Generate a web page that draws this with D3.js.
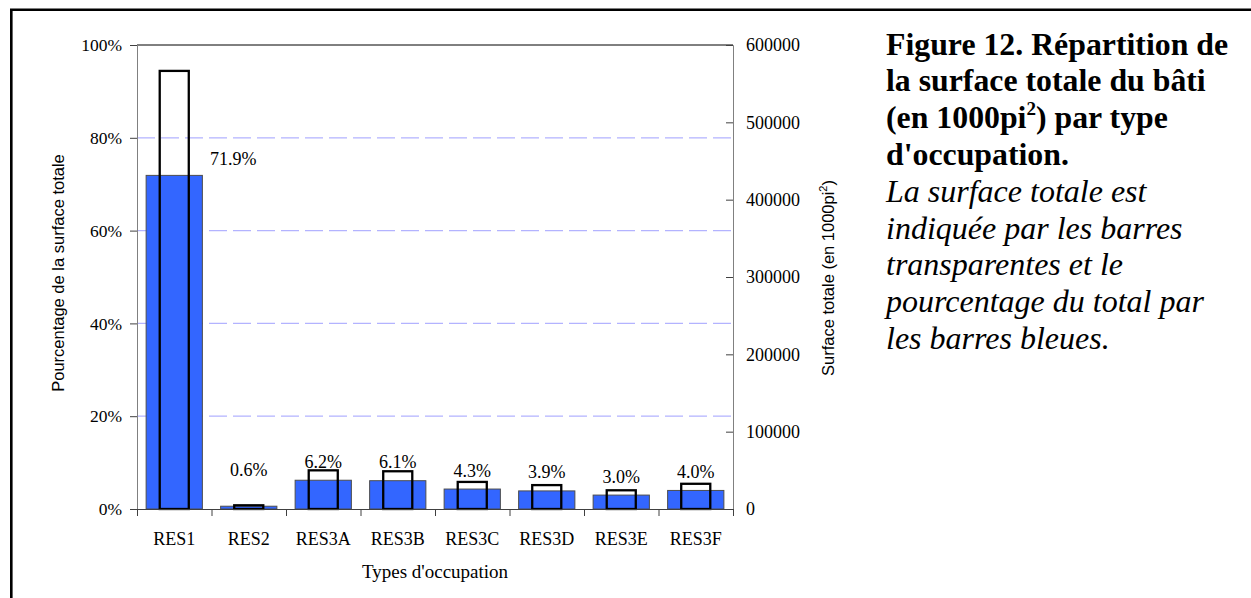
<!DOCTYPE html>
<html>
<head>
<meta charset="utf-8">
<script src="https://cdn.jsdelivr.net/npm/d3@7"></script>
<style>
  html, body { margin: 0; padding: 0; background: #fff; }
  svg { display: block; }
</style>
</head>
<body>
<svg id="chart" width="1251" height="598"></svg>
<script>
// Occupancy types
const categories = ["RES1", "RES2", "RES3A", "RES3B", "RES3C", "RES3D", "RES3E", "RES3F"];
// Share of the total built surface (blue bars, left axis)
const shareOfTotal = [0.719, 0.006, 0.062, 0.061, 0.043, 0.039, 0.030, 0.040];
// Total built surface in 1000 sq ft (outlined bars, right axis)
const totalSurface = [566500, 4800, 50000, 48800, 35000, 30900, 24200, 32600];
// Axis ticks
const pctTicks = [0, 0.2, 0.4, 0.6, 0.8, 1.0];
const surfaceTicks = [0, 100000, 200000, 300000, 400000, 500000, 600000];
const gridTicks = [0.2, 0.4, 0.6, 0.8];

const SERIF = '"Liberation Serif", "Times New Roman", serif';
const SANS = '"Liberation Sans", Arial, sans-serif';

const svg = d3.select("#chart");
const plot = { left: 137, right: 733, top: 45, bottom: 509 };

const x = d3.scaleBand().domain(categories).range([plot.left, plot.right]).padding(0);
const yPct = d3.scaleLinear().domain([0, 1]).range([plot.bottom, plot.top]);
const ySurf = d3.scaleLinear().domain([0, 600000]).range([plot.bottom, plot.top]);
const bw = x.bandwidth();
const blueW = bw * 0.755;
const openW = bw * 0.39;

// outer frame (top and left edges of the figure box)
svg.append("path")
  .attr("d", "M11.3,598 L11.3,9.7 L1251,9.7")
  .attr("fill", "none").attr("stroke", "#000").attr("stroke-width", 2.6);

// dashed gridlines
svg.append("g").selectAll("line").data(gridTicks).join("line")
  .attr("x1", plot.left).attr("x2", plot.right)
  .attr("y1", d => yPct(d)).attr("y2", d => yPct(d))
  .attr("stroke", "#b3b3ff").attr("stroke-width", 1.3)
  .attr("stroke-dasharray", "18,6");

// plot frame top
svg.append("line")
  .attr("x1", plot.left).attr("x2", plot.right)
  .attr("y1", plot.top).attr("y2", plot.top)
  .attr("stroke", "#000").attr("stroke-width", 1);

// blue bars: share of total
svg.append("g").selectAll("rect").data(categories).join("rect")
  .attr("x", d => x(d) + (bw - blueW) / 2)
  .attr("width", blueW)
  .attr("y", (d, i) => yPct(shareOfTotal[i]))
  .attr("height", (d, i) => plot.bottom - yPct(shareOfTotal[i]))
  .attr("fill", "#3366ff").attr("stroke", "#4d4d4d").attr("stroke-width", 1);

// open bars: total surface
svg.append("g").selectAll("rect").data(categories).join("rect")
  .attr("x", d => x(d) + (bw - openW) / 2)
  .attr("width", openW)
  .attr("y", (d, i) => ySurf(totalSurface[i]))
  .attr("height", (d, i) => plot.bottom - ySurf(totalSurface[i]))
  .attr("fill", "none").attr("stroke", "#000").attr("stroke-width", 2.3);

// value labels
const fmtPct = d3.format(".1%");
const nudge = { RES1: [59, 2], RES2: [0, -18] };
svg.append("g").selectAll("text").data(categories).join("text")
  .attr("x", d => x(d) + bw / 2 + (nudge[d] ? nudge[d][0] : 0))
  .attr("y", (d, i) => yPct(shareOfTotal[i]) - 12.5 + (nudge[d] ? nudge[d][1] : 0))
  .attr("text-anchor", "middle")
  .attr("font-family", SERIF)
  .attr("font-size", 18)
  .attr("fill", "#000")
  .text((d, i) => fmtPct(shareOfTotal[i]));

// left axis (percentage)
const gLeft = svg.append("g")
  .attr("transform", `translate(${plot.left},0)`)
  .call(d3.axisLeft(yPct).tickValues(pctTicks).tickFormat(d3.format(".0%")).tickSize(7).tickPadding(8));
gLeft.select(".domain").attr("stroke", "#808080");
gLeft.selectAll(".tick line").attr("stroke", "#404040");
gLeft.selectAll("text").attr("font-family", SERIF).attr("font-size", 17.5).attr("fill", "#000");

// right axis (surface)
const gRight = svg.append("g")
  .attr("transform", `translate(${plot.right},0)`)
  .call(d3.axisRight(ySurf).tickValues(surfaceTicks).tickFormat(d3.format("d")).tickSize(-7).tickPadding(13));
gRight.select(".domain").attr("stroke", "#808080");
gRight.selectAll(".tick line").attr("stroke", "#404040");
gRight.selectAll("text").attr("font-family", SERIF).attr("font-size", 18).attr("fill", "#000");

// bottom axis: boundary ticks
const xEdges = d3.scaleLinear().domain([0, categories.length]).range([plot.left, plot.right]);
const gBottom = svg.append("g")
  .attr("transform", `translate(0,${plot.bottom})`)
  .call(d3.axisBottom(xEdges).ticks(categories.length).tickFormat("").tickSize(7).tickSizeOuter(7));
gBottom.select(".domain").attr("stroke", "#404040");
gBottom.selectAll(".tick line").attr("stroke", "#404040");

// category labels
const gCat = svg.append("g")
  .attr("transform", `translate(0,${plot.bottom})`)
  .call(d3.axisBottom(x).tickSize(0).tickPadding(23));
gCat.select(".domain").remove();
gCat.selectAll("text").attr("font-family", SERIF).attr("font-size", 18).attr("fill", "#000");

// axis titles
svg.append("text")
  .attr("x", (plot.left + plot.right) / 2).attr("y", 578)
  .attr("text-anchor", "middle").attr("font-family", SERIF).attr("font-size", 19)
  .text("Types d'occupation");

svg.append("text")
  .attr("transform", "translate(63.5,273) rotate(-90)")
  .attr("text-anchor", "middle").attr("font-family", SANS).attr("font-size", 16.5)
  .text("Pourcentage de la surface totale");

const rt = svg.append("text")
  .attr("transform", "translate(834,278) rotate(-90)")
  .attr("text-anchor", "middle").attr("font-family", SANS).attr("font-size", 16.5);
rt.append("tspan").text("Surface totale (en 1000pi");
rt.append("tspan").attr("font-size", 11).attr("dy", -7).text("2");
rt.append("tspan").attr("dy", 7).text(")");

// caption
const capX = 886, capY0 = 54.5, capStep = 36.8;
const boldLines = ["Figure 12. Répartition de", "la surface totale du bâti", null, "d'occupation."];
const italicLines = ["La surface totale est", "indiquée par les barres", "transparentes et le",
  "pourcentage du total par", "les barres bleues."];
const cap = svg.append("g").attr("fill", "#000").attr("font-family", SERIF);
boldLines.forEach((t, i) => {
  const tx = cap.append("text").attr("x", capX).attr("y", capY0 + i * capStep)
    .attr("font-size", 31.8).attr("font-weight", "bold");
  if (t !== null) tx.text(t);
  else {
    tx.append("tspan").text("(en 1000pi");
    tx.append("tspan").attr("font-size", 19).attr("dy", -13).text("2");
    tx.append("tspan").attr("dy", 13).text(") par type");
  }
});
italicLines.forEach((t, i) => {
  cap.append("text").attr("x", capX).attr("y", capY0 + (i + 4) * capStep)
    .attr("font-size", 32).attr("font-style", "italic").text(t);
});
</script>
</body>
</html>
